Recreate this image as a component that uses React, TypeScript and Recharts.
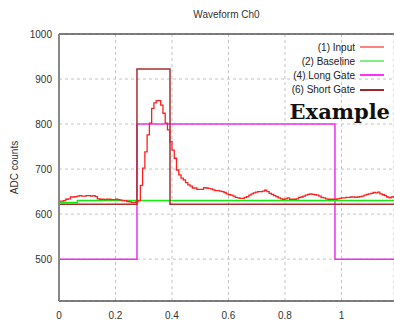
import React from 'react';
import {
  LineChart,
  Line,
  XAxis,
  YAxis,
  CartesianGrid,
  ReferenceLine,
} from 'recharts';

// sample spacing of the digitizer trace (x axis units)
const SAMPLE_DT = 0.008;

const inputValues = [
  629, 629, 630, 633, 634, 638, 638, 639, 640, 641,
  640, 640, 641, 641, 640, 641, 639, 634, 633, 633,
  632, 633, 633, 632, 632, 633, 632, 631, 630, 630,
  628, 627, 626, 626, 627, 630, 664, 702, 738, 776,
  802, 835, 847, 852, 852, 842, 824, 802, 787, 761,
  742, 724, 698, 687, 680, 676, 670, 665, 662, 658,
  658, 655, 655, 655, 659, 658, 657, 656, 654, 652,
  652, 651, 650, 648, 645, 643, 642, 640, 637, 636,
  635, 635, 637, 639, 642, 645, 647, 649, 650, 650,
  651, 653, 650, 646, 644, 641, 639, 636, 634, 633,
  634, 636, 633, 633, 633, 634, 637, 638, 640, 642,
  644, 645, 644, 643, 642, 640, 637, 636, 634, 633,
  633, 633, 633, 634, 635, 636, 636, 637, 637, 638,
  638, 637, 638, 639, 640, 642, 644, 645, 646, 648,
  647, 649, 645, 643, 641, 638, 636, 638, 640,
];

const baselineTimes = [0, 0.065, 1.186];
const baselineValues = [626, 630, 630];

const longGateTimes = [0, 0.276, 0.977, 1.186];
const longGateValues = [500, 800, 500, 500];

const shortGateTimes = [0, 0.276, 0.393, 1.186];
const shortGateValues = [622, 922, 622, 622];

const xTicks = [0, 0.2, 0.4, 0.6, 0.8, 1];
const yTicks = [500, 600, 700, 800, 900, 1000];

const legendItems = [
  { label: '(1) Input', color: '#ff8080' },
  { label: '(2) Baseline', color: '#80f080' },
  { label: '(4) Long Gate', color: '#ff30ff' },
  { label: '(6) Short Gate', color: '#a02828' },
];

const toPoints = (times: number[], values: number[]) =>
  times.map((t, i) => ({ t, v: values[i] }));

const inputData = inputValues.map((v, i) => ({ t: i * SAMPLE_DT, v }));
const baselineData = toPoints(baselineTimes, baselineValues);
const longGateData = toPoints(longGateTimes, longGateValues);
const shortGateData = toPoints(shortGateTimes, shortGateValues);

const FONT = '"Liberation Sans", Arial, sans-serif';

const LegendBox = () => (
  <div
    style={{
      position: 'absolute',
      top: 40,
      right: 10,
      width: 200,
      fontFamily: FONT,
      fontSize: 10,
      color: '#222',
    }}
  >
    {legendItems.map((it) => (
      <div
        key={it.label}
        style={{ display: 'flex', justifyContent: 'flex-end', alignItems: 'center', height: 14.2 }}
      >
        <span>{it.label}</span>
        <span
          style={{ display: 'inline-block', width: 24, height: 2, background: it.color, marginLeft: 5 }}
        />
      </div>
    ))}
  </div>
);

export default function App() {
  return (
    <div style={{ position: 'absolute', left: 0, top: 0, width: 394, height: 323, background: '#fff' }}>
      <div
        style={{
          position: 'absolute',
          left: 59,
          width: 335,
          top: 9,
          textAlign: 'center',
          fontFamily: FONT,
          fontSize: 10,
          color: '#333',
        }}
      >
        Waveform Ch0
      </div>
      <LineChart width={394} height={323} margin={{ top: 34, right: 0, bottom: 0, left: 0 }}>
        <CartesianGrid strokeDasharray="3 3" stroke="#c4c4c4" />
        <XAxis
          dataKey="t"
          type="number"
          domain={[0, 1.186]}
          ticks={xTicks}
          allowDataOverflow
          height={22}
          tickLine={false}
          tickMargin={5}
          axisLine={{ stroke: '#555', strokeWidth: 1.5 }}
          tick={{ fill: '#333', fontSize: 10, fontFamily: FONT }}
        />
        <YAxis
          type="number"
          domain={[407, 1000]}
          ticks={yTicks}
          allowDataOverflow
          width={59}
          tickLine={false}
          tickMargin={1}
          axisLine={{ stroke: '#888', strokeWidth: 2 }}
          tick={{ fill: '#333', fontSize: 10, fontFamily: FONT }}
          label={{
            value: 'ADC counts',
            angle: -90,
            position: 'insideLeft',
            offset: 14,
            style: { fill: '#333', fontSize: 10, fontFamily: FONT, textAnchor: 'middle' },
          }}
        />
        <ReferenceLine y={1000} stroke="#555" strokeWidth={1.5} />
        <Line
          data={longGateData}
          dataKey="v"
          type="stepAfter"
          stroke="#ee30ee"
          strokeWidth={1.5}
          dot={false}
          isAnimationActive={false}
        />
        <Line
          data={baselineData}
          dataKey="v"
          type="stepAfter"
          stroke="#10ee10"
          strokeWidth={1.5}
          dot={false}
          isAnimationActive={false}
        />
        <Line
          data={shortGateData}
          dataKey="v"
          type="stepAfter"
          stroke="#a83030"
          strokeWidth={1.5}
          dot={false}
          isAnimationActive={false}
        />
        <Line
          data={inputData}
          dataKey="v"
          type="stepAfter"
          stroke="#ff2020"
          strokeWidth={1.3}
          dot={false}
          isAnimationActive={false}
        />
      </LineChart>
      <LegendBox />
      <div
        style={{
          position: 'absolute',
          right: 4,
          top: 99,
          fontFamily: '"DejaVu Serif", serif',
          fontWeight: 'bold',
          fontSize: 21,
          color: '#111',
        }}
      >
        Example
      </div>
    </div>
  );
}
